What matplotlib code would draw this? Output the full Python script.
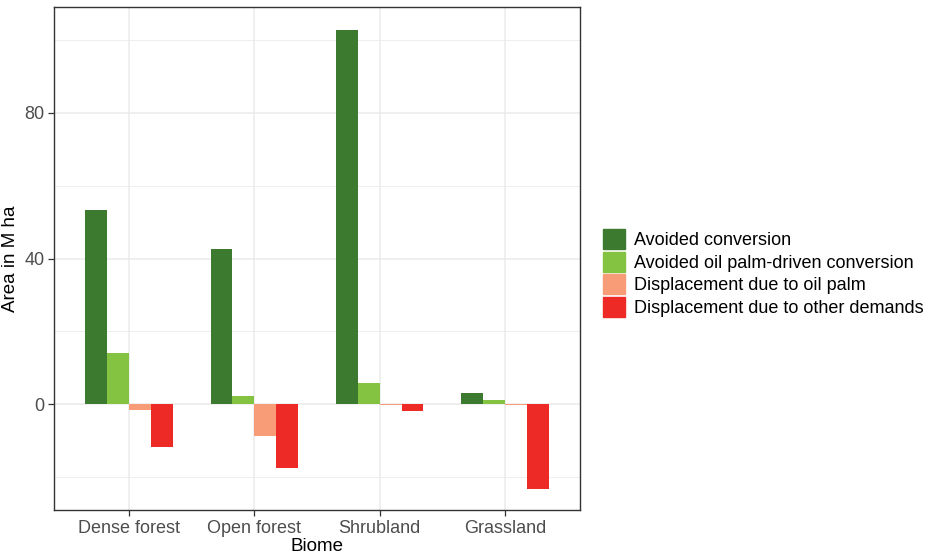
import matplotlib
matplotlib.use("Agg")
import matplotlib.pyplot as plt
import matplotlib.patches as mpatches
import numpy as np

plt.rcParams['font.family'] = ['Liberation Sans', 'DejaVu Sans']

biomes = ["Dense forest", "Open forest", "Shrubland", "Grassland"]
categories = ["Avoided conversion", "Avoided oil palm-driven conversion",
              "Displacement due to oil palm", "Displacement due to other demands"]
avoided_conversion = [53.2, 42.5, 102.6, 3.1]
avoided_oil_palm = [14.0, 2.4, 5.8, 1.2]
displaced_oil_palm = [-1.6, -8.6, -0.2, -0.2]
displaced_other = [-11.8, -17.4, -1.9, -23.2]
colors = ["#3b7a2f", "#84c342", "#f79c77", "#ee2a27"]

series = [avoided_conversion, avoided_oil_palm, displaced_oil_palm, displaced_other]

fig = plt.figure(figsize=(9.29, 5.55), dpi=100)
ax = fig.add_axes([54/929, 1 - 510/555, (580 - 54)/929, (510 - 7)/555])

# dodged bars, whole group 0.7 wide
x = np.arange(1, len(biomes) + 1)
bw = 0.7 / len(series)
for i, (vals, col) in enumerate(zip(series, colors)):
    offs = (i - (len(series) - 1) / 2) * bw
    ax.bar(x + offs, vals, width=bw, color=col, zorder=3, linewidth=0)

ax.set_xlim(0.4, 4.6)
ax.set_ylim(-29.0, 109.0)
ax.set_xticks(x)
ax.set_xticklabels(biomes)
ax.set_yticks([0, 40, 80])
ax.set_yticks([-20, 20, 60, 100], minor=True)

ax.grid(which='major', color='#ebebeb', linewidth=1.1, zorder=0)
ax.grid(which='minor', axis='y', color='#ebebeb', linewidth=0.6, zorder=0)
ax.set_axisbelow(True)
for s in ax.spines.values():
    s.set_color('#333333')
    s.set_linewidth(1.0)

ax.tick_params(which='major', length=4, width=0.9, color='#333333',
               labelsize=13, labelcolor='#4d4d4d', pad=3)
ax.tick_params(which='minor', length=0)
ax.set_xlabel("Biome", fontsize=13.5, labelpad=1)
ax.set_ylabel("Area in M ha", fontsize=13.5, labelpad=4)

handles = [mpatches.Patch(color=c, label=l) for c, l in zip(colors, categories)]
fig.legend(handles=handles, loc='center left', bbox_to_anchor=(603/929, 1 - 273/555),
           frameon=False, fontsize=13, handlelength=1.2, handleheight=1.35,
           handletextpad=0.5, labelspacing=0.12, borderaxespad=0, borderpad=0)

fig.savefig("out.png", dpi=100)
